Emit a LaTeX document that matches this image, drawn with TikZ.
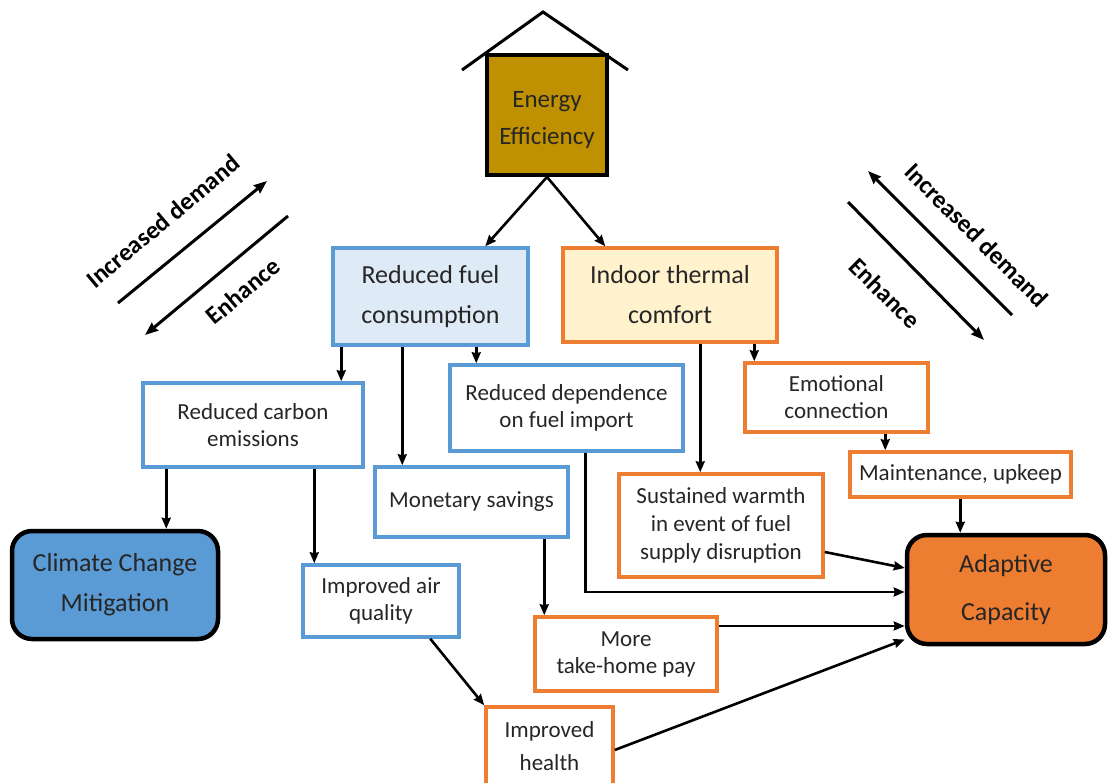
\documentclass[tikz,border=0pt]{standalone}
\usepackage{fontspec}
\setmainfont{Carlito}
\usetikzlibrary{arrows.meta,calc}
\definecolor{bblue}{HTML}{5B9BD5}
\definecolor{borange}{HTML}{ED7D31}
\definecolor{lblue}{HTML}{DEEBF7}
\definecolor{lyellow}{HTML}{FFF2CC}
\definecolor{gold}{HTML}{BF9000}
\definecolor{txt}{HTML}{262626}
\tikzset{
  box/.style={draw, line width=3.5pt, rectangle, align=center, inner sep=0pt, text=txt,
    font=\fontsize{23}{27}\selectfont},
  bluebox/.style={box, draw=bblue, fill=white},
  orangebox/.style={box, draw=borange, fill=white},
  bigbox/.style={box, font=\fontsize{26}{40}\selectfont},
  endbox/.style={draw=black, line width=4.5pt, rounded corners=20pt, rectangle, align=center,
    inner sep=0pt, text=txt, font=\fontsize{26}{48}\selectfont},
  arr/.style={line width=2.6pt, -{Stealth[length=11pt,width=9pt,inset=1pt]}},
  diag/.style={line width=3pt, -{Stealth[length=13pt,width=10pt,inset=1pt]}},
  plain/.style={line width=3pt},
  lbl/.style={font=\fontsize{25}{30}\selectfont\bfseries, text=black}
}
\begin{document}
\begin{tikzpicture}[x=1pt,y=-1pt]
\path[use as bounding box, clip] (0,0) rectangle (1110,783);
\fill[white] (0,0) rectangle (1110,783);

% roof and energy efficiency
\coordinate (roofL) at (462,70);
\coordinate (roofT) at (543,12);
\coordinate (roofR) at (628,70);
\draw[plain, line join=miter] (roofL) -- (roofT) -- (roofR);
\node[box, draw=black, line width=4pt, fill=gold, minimum width=120pt, minimum height=120pt,
  font=\fontsize{25}{37}\selectfont] (ee) at (547,115) {\rule{0pt}{27pt}Energy\\Efficiency};

% first level
\node[bigbox, draw=bblue, fill=lblue, minimum width=195pt, minimum height=97pt] (fuel) at (430.5,296.5) {Reduced fuel\\consumption};
\node[bigbox, draw=borange, fill=lyellow, minimum width=214pt, minimum height=94pt] (comfort) at (670,295) {Indoor thermal\\comfort};

% blue boxes
\node[bluebox, minimum width=220pt, minimum height=84pt] (carbon) at (253,425) {Reduced carbon\\emissions};
\node[bluebox, minimum width=233pt, minimum height=86pt] (dep) at (566.5,408) {Reduced dependence\\on fuel import};
\node[bluebox, minimum width=193pt, minimum height=70pt] (money) at (471.5,502) {Monetary savings};
\node[bluebox, minimum width=156pt, minimum height=72pt] (air) at (381,601) {Improved air\\quality};

% orange boxes
\node[orangebox, minimum width=183pt, minimum height=69pt] (emo) at (836.5,397.5) {Emotional\\connection};
\node[orangebox, minimum width=221pt, minimum height=45pt] (maint) at (960.5,474.5) {Maintenance, upkeep};
\node[orangebox, minimum width=204pt, minimum height=103pt, font=\fontsize{23}{28}\selectfont] (warmth) at (721,525.5) {Sustained warmth\\in event of fuel\\supply disruption};
\node[orangebox, minimum width=182pt, minimum height=74pt] (pay) at (626,654) {More\\take-home pay};
\node[orangebox, minimum width=127pt, minimum height=78pt, font=\fontsize{23}{33}\selectfont] (health) at (549.5,746) {Improved\\health};

% end boxes
\node[endbox, fill=bblue, minimum width=206pt, minimum height=108pt, font=\fontsize{26}{40}\selectfont] (climate) at (115,585) {Climate Change\\Mitigation};
\node[endbox, fill=borange, minimum width=198pt, minimum height=109pt] (adapt) at (1006,589.5) {Adaptive\\Capacity};

% connectors
\draw[arr] (ee.south) -- ([xshift=154pt]fuel.north west);
\draw[arr] (ee.south) -- ([xshift=44pt]comfort.north west);

\draw[arr] ([xshift=10pt]fuel.south west) -- ([xshift=10pt]fuel.south west |- carbon.north);
\draw[arr] ([xshift=71pt]fuel.south west) -- ([xshift=71pt]fuel.south west |- money.north);
\draw[arr] ([xshift=145pt]fuel.south west) -- ([xshift=145pt]fuel.south west |- dep.north);

\draw[arr] ([xshift=139pt]comfort.south west) -- ([xshift=139pt]comfort.south west |- warmth.north);
\draw[arr] ([xshift=193pt]comfort.south west) -- ([xshift=193pt]comfort.south west |- emo.north);

\draw[arr] ([xshift=25pt]carbon.south west) -- ([xshift=25pt]carbon.south west |- climate.north);
\draw[arr] ([xshift=173pt]carbon.south west) -- ([xshift=173pt]carbon.south west |- air.north);

\draw[arr] ([xshift=129pt]air.south west) -- (health.north west);
\draw[arr] ([xshift=171pt]money.south west) -- ([xshift=171pt]money.south west |- pay.north);

\draw[arr] ([xshift=142pt]emo.south west) -- ([xshift=142pt]emo.south west |- maint.north);
\draw[arr] ([xshift=112pt]maint.south west) -- ([xshift=112pt]maint.south west |- adapt.north);

\draw[arr] ([yshift=-26.5pt]warmth.east) -- ([yshift=21.5pt]adapt.west);
\draw[arr] ([xshift=137pt]dep.south west) |- ([yshift=-2.5pt]adapt.west);
\draw[arr] ([yshift=28pt]pay.east) -- ([yshift=28pt]pay.east -| adapt.west);
\draw[arr] ([yshift=-4pt]health.east) -- ([yshift=-50pt]adapt.west);

% diagonal arrows left
\coordinate (l1a) at (118,303);
\coordinate (l1b) at (267,181);
\coordinate (l2a) at (288,216);
\coordinate (l2b) at (145,335);
\draw[diag] (l1a) -- (l1b);
\draw[diag] (l2a) -- (l2b);
\node[lbl, rotate=40] (lincr) at (163,221) {Increased demand};
\node[lbl, rotate=40] (lenh) at (243,291) {Enhance};

% diagonal arrows right
\coordinate (r1a) at (1012,315);
\coordinate (r1b) at (868,171);
\coordinate (r2a) at (848,202);
\coordinate (r2b) at (984,340);
\draw[diag] (r1a) -- (r1b);
\draw[diag] (r2a) -- (r2b);
\node[lbl, rotate=-45] (rincr) at (977,235) {Increased demand};
\node[lbl, rotate=-45] (renh) at (885,293) {Enhance};
\end{tikzpicture}
\end{document}
